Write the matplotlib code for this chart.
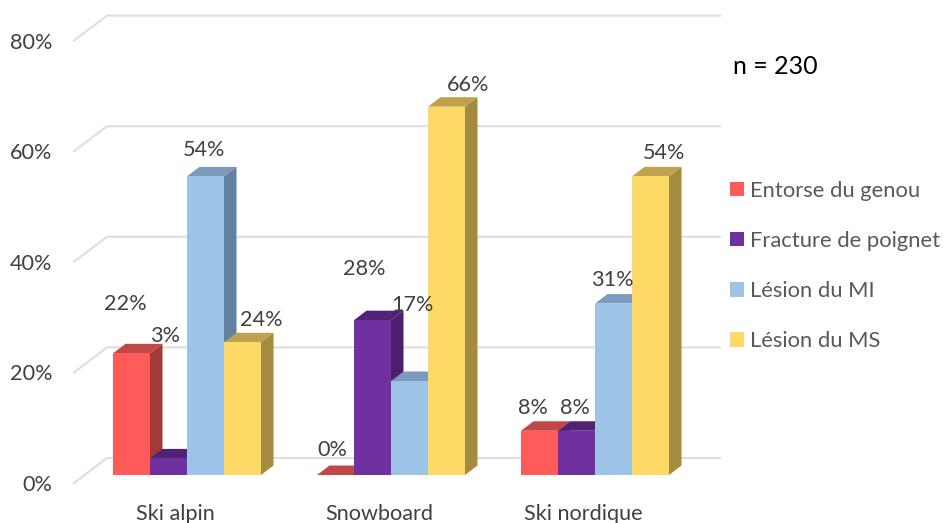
import numpy as np
import matplotlib
matplotlib.use("Agg")
import matplotlib.pyplot as plt
from matplotlib.patches import Polygon

plt.rcParams['font.family'] = ['Lato', 'DejaVu Sans']

# Data
categories = ["Ski alpin", "Snowboard", "Ski nordique"]
series = ["Entorse du genou", "Fracture de poignet", "Lésion du MI", "Lésion du MS"]
entorse = [22, 0, 8]
fracture = [3, 28, 8]
lesion_mi = [54, 17, 31]
lesion_ms = [24, 66.6, 54]  # the snowboard bar stands a bit above its "66%" label
y_ticks = [0, 20, 40, 60, 80]

# Face colours: front, top, side
front_colors = ["#FF5B5B", "#7030A0", "#9DC3E6", "#FFD966"]
top_colors = ["#C24747", "#512277", "#7C9ABD", "#BFA24E"]
side_colors = ["#A33A3A", "#4B1F6E", "#62809F", "#A38B40"]

# Scale of the picture, pixels per data unit
px_x = 1 / 204
px_y = 1 / 5.53
bar_w = 37 * px_x
depth_x = 12.5 * px_x
depth_y = 9.5 * px_y
floor_x = 12 * px_x
floor_y = 8 * px_y
wall_x = 33 * px_x
wall_y = 25 * px_y

# Label offsets in pixels from the top of each bar, (series, category)
label_dx = [[-6, -3, -6.5], [-3, -8.5, -1.5], [-1.5, 2.5, -1.5], [19, 21.5, 14]]
label_dy = [[49, 25, 23], [122, 51, 23], [26, 76, 24], [22, 22, 23]]

fig = plt.figure(figsize=(9.43, 5.23), dpi=100)
ax = fig.add_axes([74 / 943, 40 / 523, 869 / 943, 483 / 523])
ax.set_xlim(-101 * px_x, 768 * px_x)
ax.set_ylim(0, 483 * px_y)
for s in ax.spines.values():
    s.set_visible(False)

# Walls
grid_color = "#DEDEDE"
x_left = ax.get_xlim()[0]
x_right = x_left + 646 * px_x
for v in y_ticks:
    ax.plot([x_left, x_left + wall_x, x_right], [v, v + wall_y, v + wall_y],
            color=grid_color, lw=1.5, zorder=1, clip_on=False)

# Bars, left to right so each one covers the side of the previous one
values = [entorse, fracture, lesion_mi, lesion_ms]
x = np.arange(len(categories))
z = 2
handles = [None] * len(series)
for c in x:
    for i, vals in enumerate(values):
        left = c + floor_x + (i - 2) * bar_w
        right = left + bar_w
        base = floor_y
        top = floor_y + vals[c]
        ax.add_patch(Polygon([[left, top], [right, top],
                              [right + depth_x, top + depth_y], [left + depth_x, top + depth_y]],
                             color=top_colors[i], lw=0, zorder=z))
        ax.add_patch(Polygon([[right, base], [right + depth_x, base + depth_y],
                              [right + depth_x, top + depth_y], [right, top]],
                             color=side_colors[i], lw=0, zorder=z))
        b = ax.bar(left, vals[c], bar_w, bottom=base, align='edge',
                   color=front_colors[i], lw=0, zorder=z + 0.5)
        if handles[i] is None:
            handles[i] = b[0]
        ax.annotate(f"{int(vals[c])}%", (left + bar_w / 2, top),
                    xytext=(label_dx[i][c], label_dy[i][c]), textcoords='offset pixels',
                    ha='center', va='center', fontsize=15.6, color="#404040", zorder=50)
        z += 1

# Axes text
ax.set_xticks(x, categories)
ax.set_yticks(y_ticks, [f"{v}%" for v in y_ticks])
ax.tick_params(axis='x', length=0, pad=15, labelsize=15.6, labelcolor="#404040")
ax.tick_params(axis='y', length=0, pad=15.5, labelsize=15.6, labelcolor="#404040")

ax.legend(handles, series, loc='upper left', bbox_to_anchor=(723 / 943, 1 - 174 / 523),
          bbox_transform=fig.transFigure, frameon=False, fontsize=15.8, labelcolor="#595959",
          handlelength=0.64, handleheight=0.64, handletextpad=0.28, labelspacing=1.38,
          borderpad=0.3, borderaxespad=0)

fig.text(733 / 943, 1 - 66 / 523, "n = 230", fontsize=18, color="black", va='center')

fig.savefig("out.png", dpi=100)
plt.close(fig)
